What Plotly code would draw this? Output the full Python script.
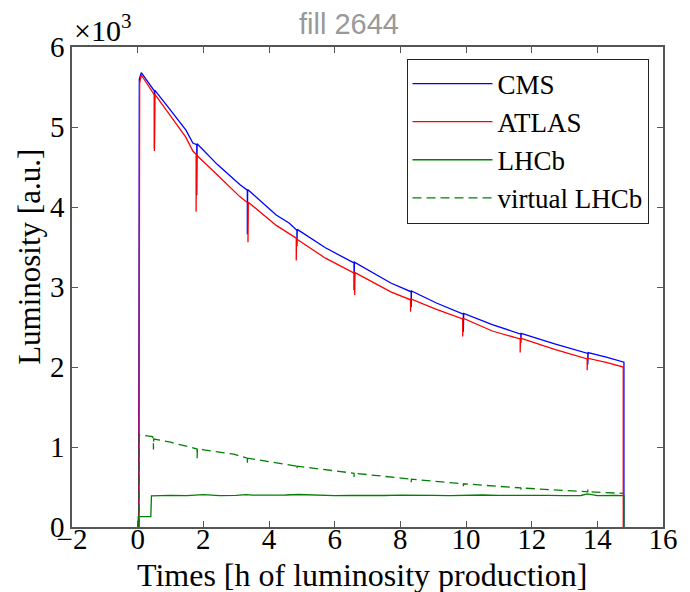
import plotly.graph_objects as go

# ---- data (luminosity in a.u.; times in hours) ----
cms_t = [0.03, 0.03, 0.05, 0.11, 0.51, 0.51, 0.52, 1.00, 1.47, 1.68, 1.80, 1.80, 1.81,
         2.43, 3.11, 3.34, 3.34, 3.35, 4.22, 4.61, 4.85, 4.85, 4.86, 5.72, 6.59, 6.59,
         6.60, 7.71, 8.33, 8.33, 8.34, 9.10, 9.92, 9.92, 9.93, 10.80, 11.67, 11.67,
         11.68, 12.70, 13.71, 13.71, 13.72, 14.30, 14.81, 14.81]
cms_v = [0, 4200, 5600, 5680, 5450, 4730, 5460, 5210, 4960, 4800, 4780, 4150, 4790,
         4530, 4280, 4210, 3660, 4220, 3900, 3800, 3710, 3510, 3720, 3490, 3300, 2960,
         3310, 3050, 2940, 2750, 2950, 2800, 2660, 2440, 2670, 2530, 2410, 2300,
         2420, 2290, 2170, 2030, 2180, 2120, 2060, 0]

atlas_t = [0.04, 0.04, 0.05, 0.06, 0.11, 0.51, 0.51, 0.52, 1.00, 1.47, 1.68, 1.78, 1.78,
           1.79, 2.43, 3.11, 3.36, 3.36, 3.37, 4.22, 4.61, 4.83, 4.83, 4.84, 5.72, 6.61,
           6.61, 6.62, 7.71, 8.31, 8.31, 8.32, 9.10, 9.90, 9.90, 9.91, 10.80, 11.65,
           11.65, 11.66, 12.70, 13.69, 13.69, 13.70, 14.30, 14.79, 14.79]
atlas_v = [0, 4200, 3750, 5550, 5650, 5400, 4700, 5410, 5140, 4870, 4700, 4660, 3940,
           4650, 4400, 4130, 4050, 3560, 4060, 3770, 3670, 3610, 3330, 3600, 3360, 3170,
           2900, 3180, 2940, 2840, 2690, 2850, 2720, 2600, 2380, 2610, 2450, 2350,
           2180, 2360, 2220, 2100, 1960, 2110, 2055, 2000, 0]

lhcb_t = [0.00, 0.02, 0.40, 0.42, 1.0, 1.5, 2.0, 2.5, 3.0, 3.3, 3.5, 4.0, 4.5, 4.9,
          5.5, 6.0, 6.5, 7.0, 7.5, 8.0, 8.5, 9.0, 9.5, 10.0, 10.5, 11.0, 11.5, 12.0,
          12.5, 13.0, 13.5, 13.7, 14.0, 14.5, 14.81, 14.81]
lhcb_v = [0, 130, 130, 390, 395, 392, 405, 392, 396, 404, 398, 395, 400, 406,
          398, 392, 396, 391, 394, 398, 392, 395, 392, 398, 400, 395, 398, 393,
          396, 391, 394, 415, 392, 396, 393, 0]

virt_t = [0.04, 0.05, 0.45, 0.48, 0.48, 0.49, 1.00, 1.81, 1.81, 1.82, 2.93, 3.34, 3.34,
          3.35, 4.85, 4.85, 4.86, 6.59, 6.59, 6.60, 8.33, 8.33, 8.34, 9.92, 9.92, 9.93,
          11.67, 11.67, 11.68, 13.71, 13.71, 13.72, 14.81]
virt_v = [0, 1150, 1130, 1100, 970, 1100, 1060, 975, 860, 975, 910, 860, 790,
          860, 760, 720, 760, 672, 625, 672, 598, 560, 598, 540, 510, 540,
          488, 468, 488, 440, 468, 440, 420]

x_ticks = [-2, 0, 2, 4, 6, 8, 10, 12, 14, 16]
y_ticks = [0, 1000, 2000, 3000, 4000, 5000, 6000]
y_tick_text = ["0", "1", "2", "3", "4", "5", "6"]

SERIF = "Liberation Serif"

fig = go.Figure()
fig.add_trace(go.Scatter(x=cms_t, y=cms_v, mode="lines", name="CMS",
                         line=dict(color="#0000ff", width=1.3), legendgroup="a"))
fig.add_trace(go.Scatter(x=atlas_t, y=atlas_v, mode="lines", name="ATLAS",
                         line=dict(color="#ff0000", width=1.3), legendgroup="b"))
fig.add_trace(go.Scatter(x=lhcb_t, y=lhcb_v, mode="lines", name="LHCb",
                         line=dict(color="#008000", width=1.3), legendgroup="c"))
fig.add_trace(go.Scatter(x=virt_t, y=virt_v, mode="lines", name="virtual LHCb",
                         line=dict(color="#008000", width=1.3, dash="9px,5px"),
                         legendgroup="d"))

def axis_style():
    return dict(
        showline=True, linecolor="#555555", linewidth=1.5, mirror="allticks",
        ticks="inside", ticklen=6, tickwidth=1, tickcolor="#555555",
        showgrid=False, zeroline=False,
        tickfont=dict(family=SERIF, size=29, color="black"),
    )

fig.update_layout(
    width=690, height=592,
    margin=dict(l=72, r=16, t=47, b=65),
    paper_bgcolor="white", plot_bgcolor="white",
    font=dict(family=SERIF, color="black"),
    showlegend=True,
    legend=dict(
        x=0.566, y=0.976, xanchor="left", yanchor="top",
        bgcolor="white", bordercolor="#222222", borderwidth=1,
        font=dict(family=SERIF, size=27, color="black"),
        traceorder="grouped", tracegroupgap=0, itemwidth=80,
    ),
    xaxis=dict(range=[-2, 16], tickvals=x_ticks, ticklabelstandoff=-15, **axis_style()),
    yaxis=dict(range=[0, 6000], tickvals=y_ticks, ticktext=y_tick_text, **axis_style()),
    annotations=[
        dict(text="fill 2644", xref="paper", yref="paper", x=0.468, y=1.048,
             xanchor="center", yanchor="middle", showarrow=False,
             font=dict(family="Liberation Sans", size=29, color="#999999")),
        dict(text="×10<sup>3</sup>", xref="paper", yref="paper", x=0.0, y=0.995,
             xanchor="left", yanchor="bottom", showarrow=False,
             font=dict(family=SERIF, size=30, color="black")),
        dict(text="Luminosity [a.u.]", xref="paper", yref="paper", x=-0.073, y=0.5625,
             xanchor="center", yanchor="middle", textangle=-90, showarrow=False,
             font=dict(family=SERIF, size=31, color="black")),
        dict(text="Times [h of luminosity production]", xref="paper", yref="paper",
             x=0.49, y=-0.10, xanchor="center", yanchor="middle", showarrow=False,
             font=dict(family=SERIF, size=32, color="black")),
    ],
)

fig.write_html("out.html")
